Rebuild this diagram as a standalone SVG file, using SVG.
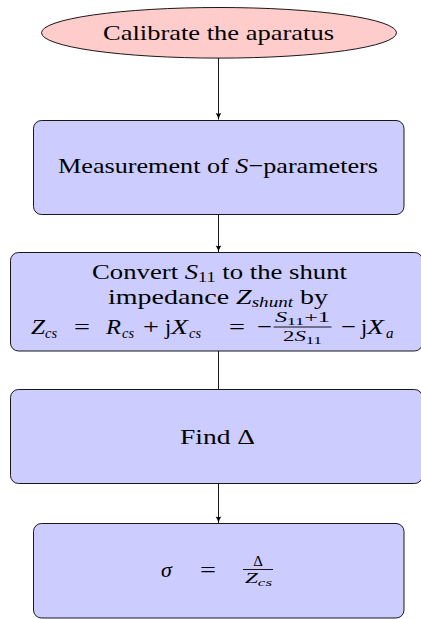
<svg xmlns="http://www.w3.org/2000/svg" width="421" height="619" viewBox="0 0 421 619">
<defs>
<style>
.box{fill:#ccccff;stroke:#000;stroke-width:0.9}
.start{fill:#ffcccc;stroke:#000;stroke-width:0.9}
.t{font-family:"Liberation Serif","Times New Roman",serif;font-size:22px;fill:#000}
.i{font-style:italic}
.s{font-size:15px}
.ss{font-size:11px}
.m{text-anchor:middle}
.c{stroke:#000;stroke-width:0.9;fill:none}
</style>
<marker id="ah" markerUnits="userSpaceOnUse" markerWidth="8" markerHeight="8" refX="7" refY="4" orient="auto">
<path d="M0.5,1.2 Q3.5,3.2 7,4 Q3.5,4.8 0.5,6.8 Q1.8,4 0.5,1.2 Z" fill="#000"/>
</marker>
</defs>
<g id="connectors">
<line class="c" x1="218.5" y1="58" x2="218.5" y2="119.5" marker-end="url(#ah)"/>
<line class="c" x1="218.5" y1="214.5" x2="218.5" y2="252" marker-end="url(#ah)"/>
<line class="c" x1="218.5" y1="351" x2="218.5" y2="389"/>
<line class="c" x1="218.5" y1="483.5" x2="218.5" y2="523" marker-end="url(#ah)"/>
</g>
<g id="calibrate">
<ellipse class="start" cx="219" cy="32.8" rx="177.5" ry="25.3"/>
<text class="t" x="103" y="39.5" textLength="231" lengthAdjust="spacingAndGlyphs">Calibrate the aparatus</text>
</g>
<g id="measurement">
<rect class="box" x="33.5" y="120.5" width="370.5" height="94" rx="8"/>
<text class="t" x="58" y="173" textLength="320" lengthAdjust="spacingAndGlyphs">Measurement of <tspan class="i">S</tspan>−parameters</text>
</g>
<g id="convert">
<rect class="box" x="10.5" y="252.5" width="412" height="98.5" rx="8"/>
<text class="t" x="92" y="278.5" textLength="255" lengthAdjust="spacingAndGlyphs">Convert <tspan class="i">S</tspan><tspan class="s" dy="3.5">11</tspan><tspan dy="-3.5"> to the shunt</tspan></text>
<text class="t" x="108" y="303.5" textLength="220" lengthAdjust="spacingAndGlyphs">impedance <tspan class="i">Z</tspan><tspan class="s i" dy="3.5">shunt</tspan><tspan dy="-3.5"> by</tspan></text>
<text class="t i" x="31" y="334" textLength="14" lengthAdjust="spacingAndGlyphs">Z</text>
<text class="t s i" x="45" y="337.5" textLength="12" lengthAdjust="spacingAndGlyphs">cs</text>
<text class="t" x="74" y="334" textLength="16" lengthAdjust="spacingAndGlyphs">=</text>
<text class="t i" x="106" y="334" textLength="15" lengthAdjust="spacingAndGlyphs">R</text>
<text class="t s i" x="122" y="337.5" textLength="12" lengthAdjust="spacingAndGlyphs">cs</text>
<text class="t" x="143" y="334" textLength="16" lengthAdjust="spacingAndGlyphs">+</text>
<text class="t" x="165" y="334">j</text>
<text class="t i" x="171" y="334" textLength="17" lengthAdjust="spacingAndGlyphs">X</text>
<text class="t s i" x="189" y="337.5" textLength="12" lengthAdjust="spacingAndGlyphs">cs</text>
<text class="t" x="229" y="334" textLength="16" lengthAdjust="spacingAndGlyphs">=</text>
<text class="t" x="257" y="334" textLength="15" lengthAdjust="spacingAndGlyphs">−</text>
<text class="t s" x="275" y="322" textLength="55" lengthAdjust="spacingAndGlyphs"><tspan class="i">S</tspan><tspan class="ss" dy="2.5">11</tspan><tspan dy="-2.5">+1</tspan></text>
<line class="c" x1="273.5" y1="327" x2="331.5" y2="327"/>
<text class="t s" x="283" y="341" textLength="39" lengthAdjust="spacingAndGlyphs">2<tspan class="i">S</tspan><tspan class="ss" dy="2.5">11</tspan></text>
<text class="t" x="341" y="334" textLength="15" lengthAdjust="spacingAndGlyphs">−</text>
<text class="t" x="361" y="334">j</text>
<text class="t i" x="367" y="334" textLength="17" lengthAdjust="spacingAndGlyphs">X</text>
<text class="t s i" x="386" y="337.5">a</text>
</g>
<g id="find">
<rect class="box" x="10.5" y="389.5" width="412" height="94" rx="8"/>
<text class="t" x="180" y="444" textLength="75" lengthAdjust="spacingAndGlyphs">Find Δ</text>
</g>
<g id="sigma">
<rect class="box" x="33.5" y="523.5" width="370.5" height="94.5" rx="8"/>
<text class="t i" x="161" y="577">σ</text>
<text class="t" x="200" y="577" textLength="16" lengthAdjust="spacingAndGlyphs">=</text>
<text class="t s m" x="258" y="566">Δ</text>
<line class="c" x1="243" y1="569.5" x2="273" y2="569.5"/>
<text class="t s" x="245" y="583" textLength="27" lengthAdjust="spacingAndGlyphs"><tspan class="i">Z</tspan><tspan class="ss i" dy="2.5">cs</tspan></text>
</g>
</svg>
